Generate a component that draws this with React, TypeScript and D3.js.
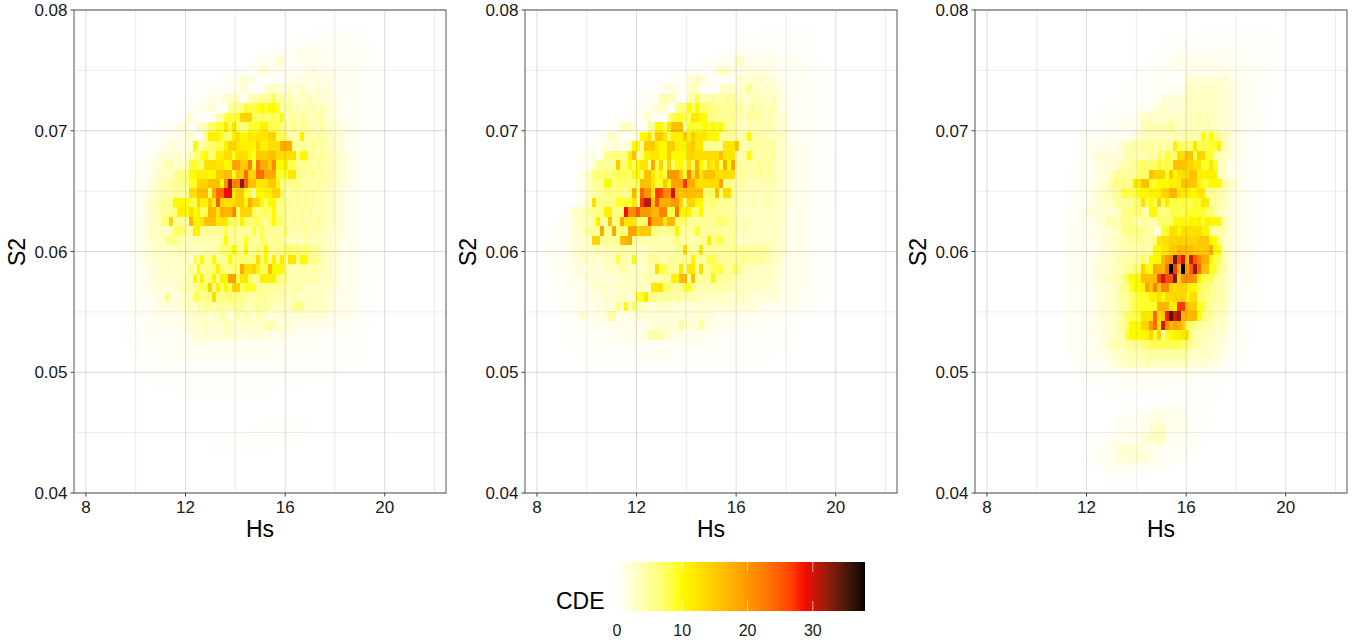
import React from "react";
import * as d3 from "d3";

// Cell codes: , = 0.3  ; = 0.6  0-9  a-z = 10-35  A B C = 36 37 38   (_ = ten empty cells)
// Each string is one S2 row; each character one Hs bin.
const firstRow = 2;
const panel1Start = 0;
const panel1Rows = [
"_ _ _ _ _ 00000000,, ,,,,,,,,,,",
"_ _ _ _ _ 00,,,,,,;; ;;;;;,,,,, ,,",
"_ _ _ _ 0000,,,;;; ;;;;1111;; ;;;;;;;,,, ,,,",
"_ _ _ _ 0,,;;;;123 ,,;;111111 1;;;;;;;;, ,,,",
"_ _ _ 0000000,,, ,,;1221111 ,;;;111211 111;;;;;;; ,,,",
"_ _ _ 000,,;;;12 221;,,,,,; 1112121121 2111;;;;;; ,,,,",
"_ _ 00000000,, ,;;;;;1112 2;,,,23332 2322322132 2211;;;;;; ,,,,",
"_ _ 000000,,,, ;11122333; ;344555845 3432334232 2211;;;;;; ,,,,",
"_ _ 0000,,;;11 122;;,5566 9889a9aa95 4534343434 3221;;;;;; ,,,,",
"_ _ 0000,22;,, ,,;448989e ee8787787a 4454553444 3221;;;;;; ,,,,",
"_ 0000000,,, ,11222,,33 47799c8c86 6999bb8886 5464554435 3322111;;; ,,,,,",
"_ 00000,,,;; 1111122111 5bbb977bda acbcccee88 7444b45454 4332211;;; ,,,,,",
"_ 0000,,,;;1 1221212a54 67788beecb bbaebbdddi ii64554645 4332211;;; ,,,,,",
"_ 000,,;;122 2223225669 a77bbdd9dd da9fffggdd ddd6aa4545 4433221;;; ,,,,,",
"_ 00,,;;1223 4423339977 dddccaajjf fm9niiflaa b886565454 4433221;;; ,,,,,",
"_ 00,;;11233 335666aabb baaffgg9ff oeeooiii99 9cc6554645 4433221;;; ,,,,,",
"_ 0,,;;12234 45656699ee egggalwmmx pggcccffa6 6656545454 4433221;;; ,,,,,",
"_ ,,;;112334 445544ddgg g8ioottbff 994aabbee8 4455454544 4332211;;; ,,,,,",
"_ ,,;;123345 55aaaa88eb bgapedddff aieea7aa66 6545454544 4332211;;; ,,,,,",
"_ ,,;;123345 556bbadab7 8hhcihhl8e ee86787a66 5554545444 4332211;;; ,,,,,",
"_ ,;;1123346 6e5554hbbc gggccc877b 7778747a77 5454544454 4332211;;; ,,,,,",
"_ ,;;1123333 3477744bb5 5555585655 5585855555 7444454444 3322211;;; ,,,,,",
"_ ,;;1122333 6664434444 44445a5555 9655774555 4434344343 3322111;;; ,,,,",
"_ ,;;1122333 3334343333 4444777a75 a5576a6565 7767676554 3322111;;; ,,,,",
"_ ,;;1122233 333333284a 55a555a677 767d7a6b6c 6cc6aa5654 3322111;;; ,,,,",
"_ ,,;;112223 33233364a5 667b76677i ddeb78gaaa 6444444444 3322111;;; ,,,,",
"_ ,,;;112222 2233343a5b 66b5bajj8c c755bbbb76 5444444443 3322111;;; ,,,,",
"_ ,,;;111222 2223444577 8e6b7a7ee7 9995555555 4444433333 3322111;;; ,,,",
"_ ,,,;;11122 6222333885 66d6667666 5445554444 4343333333 3221111;;; ,,,",
"_ ,,,;;;1112 2222333354 5545545555 4445454343 3356634333 3221111;;; ,,,",
"_ ,,,;;;;111 1111122333 3232432243 4324332222 2222222222 2111111;;; ,,",
"_ ,,,,;;;;11 1111122332 4232244223 3332344422 2211111111 111;;;;,,, ,,",
"_ ,,,,,;;;;; ;;;1111222 3222233222 1222212112 111;;;;;;; ;;;;,,,,,,",
"_ 0,,,,,;;;; ;;;;;;1111 1111;1111; ;;;1;;;;;; ;;;;;;;;;, ,,,,,,,,,,",
"_ 00,,,,,,,; ;;;;;;;;;; ;;;;;;;;;; ;;;;;;;;;; ,,,,,,,,,, ,,,,,,,,,,",
"_ 000,,,,,,, ,,,,,,,,,, ,,,,,,,,,, ,,,,,,,,,, ,,,,,,,,,, ,,,,,,,,00",
"_ 00000,,,,, ,,,,,,,,,, ,,,,,,,,,, ,,,,,,,,,, ,,,,,,,,,, ,,,,000000",
"_ 0000000,,, ,,,,,,,,,, ,,,,,,,,,, ,,,,,,,,,, ,,,,,,0000",
"_ _ 000,,,,,,, ,,,,,,,,,, ,,,,,,0000",
"",
"",
"_ _ _ _ 00000,,,,, ,,,,,,0000",
"_ _ _ _ 0,,,,,,,,, ,,,,,,0000",
"_ _ _ 00000,,,,, ,,,,,,,,,, ,,,,,",
"_ _ _ 00,,,,,,,, ,,,,,,,000",
];

const panel2Start = 0;
const panel2Rows = [
"_ _ _ _ _ 000000,,,, ,,,,,,,,,,",
"_ _ _ _ _ 0,,,,,,,,, ,,,,,,,,,,",
"_ _ _ _ 000000,,,, ;;;;;;;;;; ,,,,,,,,,,",
"_ _ _ _ 00,,;;;111 3311111111 ;;;;;;;,,, ,,",
"_ _ _ 0000000,,, ,,;;123321 1212121211 1;;;;;;,,, ,,",
"_ _ _ 00,,;;;122 422;,,,;;; 2322323222 11;;;;;;,, ,,,",
"_ _ 000000,,,; ;11221;;33 3,,;,,3333 2336332332 2111;;;;;, ,,,",
"_ _ 0000,,,;;1 1443311;44 8444544555 3423343324 2211;;;;;; ,,,",
"_ _ 000,,,;;12 233;;666a7 a776665555 4534535344 2211;;;;;; ,,,",
"_ _ 00,,;1122; ,,;689987c caa5655656 4435454343 3221;;;;;; ,,,,",
"_ 000000000, ;3332,,;55 aa7cggg599 99a9a9a655 3434344343 3221;;;;;; ,,,,",
"_ 0000,,;;33 2;;;;2aad7 ffc8bbbfbf cccaaa5555 445a454434 3321;;;;;; ,,,,",
"_ 00,,;;1212 2122aa5fff caaffbbbef cc55555ccc f444545455 3322111;;; ,,,,",
"_ ,;;1211666 666bg66bbc caafaaaaee ddddddgccc 445a544545 3322111;;; ,,,,,",
"_ ,;;1255555 f77a7acc6i 8e7e7aa8d8 ia8dbe8iaj 5545455454 3322111;;; ,,,,,",
"_ ;124676767 8886aa8ggc 9a8kkkf9mc jcgggddddd 4554545454 3322111;;; ,,,,,",
"_ ;123555aa6 777768gggc 99fajjjrii ddddddj665 4543434445 3322111;;; ,,,,,",
"_ ;123455666 6657h8okkc rqllugggggg".replace("gggggg","ggggg")+" gg777g7dd5 4343434343 3322111;;; ,,,,,",
"_ ;123d66666 9999c7rvvg qhiikke7ee aa66765655 4343433434 3322111;;; ,,,,,",
"0000000,;3 3345666bb6 66tllpkkkh hmm88nbbb7 7a56555555 3333333333 3321111;;; ,,,,",
"0000,,;;;2 33335b55g6 6iccc777qi iichh77755 5555577755 4343333333 3221111;;; ,,,,",
"000,,;;;;2 234555i55i 676jjefff6 6556 6b5555 9555555455 4343333333 3221111;;; ,,,,",
"00,,;;;;12 2233ee5555 5ghi544444 4344574544 455b588555 3333333333 3221111;;; ,,,,",
"00,,;;;112 2323343443 4544433344 4444455d55 5c55555555 5555545543 3221111;;; ,,,,",
"00,,;;;112 2232323334 8443a33355 5445555 55b 5558865555 5555555443 3211111;;; ,,,",
"000,,;;;11 2213222333 3443333344 d88555c5cc 5d55888557 7443333333 2211111;;; ,,,",
"000,,;;;11 1122222222 2333333444 4455bbhh5g 5555a55554 4333333333 2211111;;; ,,,",
"0000,,;;;1 1112232322 333333333c cc77555995 4444444444 3333333222 2111111;;; ,,,",
"0000,,;;;; 1111212322 3323399c66 5555454444 4333333332 3332222222 211111;;;, ,,",
"00000,,;;; 1111121222 63a3833322 3323232222 2322222222 2222211111 1;;;;;,,,, ,,",
"00000,,,;; ;311111244 1111222222 2222222222 2222211111 1;;;;;;;;; ;;,,,,,000",
"000000,,,, ;;;;;1;1;1 1111111112 2222225222 2522111111 ;;;;;;;;,, ,,,,,,0000",
"0000000,,, ,,;;;;;;;; 1111111244 4422121111 111;;;;;;; ,,,,,,,,,, ,,,,000000",
"00000000,, ,,,,,;;;;; ;;;;;;;;;; ;;;;;;;;;; ;;;;;;,,,, ,,,,,,,,,, ,,,,000000",
"_ ,,,,,,,,,, ,,,,,;;;;; ;;;;;,,,,, ,,,,,,,,,, ,,,,,,,,,,",
"_ 00,,,,,,,, ,,,,,,,,,, ,,,,,,,,,, ,,,,,,,,,, ,,,,,,,,00",
];

const panel3Start = 20;
const panel3Rows = [
"_ _ _ 00000,,,,, ,,,,,,,,,, ,,",
"_ _ 0000,,,,,, ,,,,,,,,,, ,,,,,,,,,, ,,",
"_ _ 00,,,,,,;; ;;;;;;;;;; ;;;;;,,,,, ,,",
"_ _ ,,,,,;;111 1111111111 ;;;;;;;,,, ,,",
"_ 000000000, ,,,;;;1;;1 1111111111 1;;;;;,,,, ,",
"_ 0000000,,, ,,,,,,,,,1 2222222222 2111;;;;,, ,",
"_ 00000,,,,, ,,,,,;;;;1 3332333332 2211;;;;,, ,",
"_ 0000,,,,,, ,,,,222222 4333333322 2211;;;;,, ,",
"000000000, ,,,,,,,,;1 1122332222 3333333322 2211;;;;,,",
"00000000,, ;;;;;;;;23 3323233333 3434343322 2211;;;;,,",
"00000,,,;; ;;;;111114 4444446333 3434343332 2211;;;,,,",
"000,,;;;;; ;;;;;;1233 3434343434 4444a7a754 3211;;,,,0",
"00,,;;1111 1112344545 4545454b77 77c88899b4 3211;;,,,0",
"00,,;;1222 2222344444 4548597 7dd gg8ee99443 3211;;,,,0",
"00,,;;;122 2223445577 7779797ggg eecc99c933 2111;;,,,0",
"0,,;;;1122 2355555577 7geee9fadd dggbbbbb33 2111;;,,,0",
"0,,;;;1122 3466666ccg g99aaabbbg gffb99aaa5 4321;;,,,0",
",,;;;11223 3455888 8aa abbbeehhcc caacc55544 3211;;,,00",
",,;;;11223 3345555 77d 8a7e8c8989 8899cc5544 3211;;,,00",
",;;;122222 2233666774 4aa6668888 9999977533 2211;;,,00",
",;;;111222 4444666445 4447777aaa 9bab9baaa4 3211;;,,00",
",;;;111122 2333566665 5422 99ddad ddddbb5544 3211;;,,00",
",;;;111112 2333445555 456cddeeee eeefffaa63 3211;;,,00",
",;;;;11112 2233444444 44aaccffhg ggffffiaa3 3211;;,,00",
",;;;111122 2334445558 5aaahklyqt fupmiia884 3211;;,,00",
",;;;111222 233445577e aaihhnCrhC jpwogg9955 3211;;,,00",
",;;;111222 334468aaag gggquqqxel llkb888544 321;;;,,00",
",;;;;11122 2334669aaa jfmflledee caa8775544 321;;;,,00",
",;;;;11122 2334557899 9bbdaddeee add7765544 321;;,,,00",
",;;;;11122 2334557899 999hhhbbrr gff9955444 21;;;,,,00",
",;;;;11122 233457889c ccodfszuwh hhha665433 21;;;,,,00",
",;;;;11122 233457aaae ekoculhjif 7765444333 21;;,,,000",
",;;;;11112 233449aaaa be9e59abbc c544433322 1;;,,,0000",
",;;;;11112 2444455666 7888888887 7544333222 1;;,,,0000",
",,;;;;1111 2233344444 4545454545 4333333221 ;;,,,00000",
"00,,;;;;;1 1122333333 4333333333 3222221111 ;,,,000000",
"000,,,,;;; ;;11111111 1111111111 11;;;;;;,, ,,00000000",
"00000,,,,, ,,,;;;;;;; ;;;;;;;;;; ;;,,,,,,,,",
"_ 0,,,,,,,,, ,,,,,,,,,, ,,,,,,,,00",
"_ _ 0000,,,,,, ,,,,,,,,00",
"_ 0000,,,,,, ;1111111;; ,,,,,",
"_ 00,,;;;;11 1122111111 ;;,,,,",
"_ ,,;;;;1111 1333311111 ;;,,,",
"00000000,, ;;11111112 2333311;;; ;;,,,",
"000000,,;; 1112222222 11111;;;;, ,,,",
"00000,,;;; 1112222222 2111;;,,,,",
"000000,,,, ;;;;;;;;;; ,,,,,,,000",
"_ ,,,,,,,,,,",
];

const panelData = [
  { rows: panel1Rows, start: panel1Start, left: 74 },
  { rows: panel2Rows, start: panel2Start, left: 525 },
  { rows: panel3Rows, start: panel3Start, left: 975 },
];

const xMajor = [8, 12, 16, 20];
const xMinor = [10, 14, 18, 22];
const yMajor = [0.04, 0.05, 0.06, 0.07, 0.08];
const yMinor = [0.045, 0.055, 0.065, 0.075];
const legendTicks = [0, 10, 20, 30];

const HS_BIN = 0.16;
const HS_ORIGIN = 7.96;
const S2_BIN = 0.000783;
const S2_TOP = 0.0801;
const FONT = "'Liberation Sans', Arial, Helvetica, sans-serif";

const color = d3
  .scaleLinear<string>()
  .domain([0, 9.5, 28.5, 38])
  .range(["#ffffff", "#ffff00", "#ff0000", "#000000"])
  .interpolate(d3.interpolateLab);

const decode = (c: string): number => {
  if (c === ",") return 0.3;
  if (c === ";") return 0.6;
  if (c >= "0" && c <= "9") return +c;
  if (c >= "a" && c <= "z") return c.charCodeAt(0) - 87;
  if (c >= "A" && c <= "C") return c.charCodeAt(0) - 29;
  return 0;
};
const expand = (s: string) => s.replace(/ /g, "").replace(/_/g, "0000000000");

const PANEL_W = 372;
const TOP = 10;
const BOTTOM = 493;

function Panel({ rows, start, left, idx }: any) {
  const x = d3.scaleLinear().domain([7.52, 22.46]).range([left, left + PANEL_W]);
  const y = d3.scaleLinear().domain([0.04, 0.08]).range([BOTTOM, TOP]);
  const clip = `clip${idx}`;
  const cells: any[] = [];
  rows.forEach((raw: string, r: number) => {
    const s = expand(raw);
    const j = r + firstRow;
    for (let i = 0; i < s.length; i++) {
      const v = decode(s[i]);
      if (v <= 0) continue;
      const k = i + start;
      const hs = HS_ORIGIN + k * HS_BIN;
      const s2 = S2_TOP - j * S2_BIN;
      cells.push(
        <rect
          key={`${j}-${k}`}
          x={x(hs)}
          y={y(s2)}
          width={x(hs + HS_BIN) - x(hs)}
          height={y(s2 - S2_BIN) - y(s2)}
          fill={color(v)}
          shapeRendering="crispEdges"
        />
      );
    }
  });
  const tick = "#444";
  return (
    <g fontFamily={FONT}>
      <defs>
        <clipPath id={clip}>
          <rect x={left} y={TOP} width={PANEL_W} height={BOTTOM - TOP} />
        </clipPath>
      </defs>
      <g clipPath={`url(#${clip})`}>{cells}</g>
      {xMinor.map((d) => (
        <line key={d} x1={x(d)} x2={x(d)} y1={TOP} y2={BOTTOM} stroke="#000" strokeOpacity={0.08} />
      ))}
      {yMinor.map((d) => (
        <line key={d} x1={left} x2={left + PANEL_W} y1={y(d)} y2={y(d)} stroke="#000" strokeOpacity={0.08} />
      ))}
      {xMajor.map((d) => (
        <line key={d} x1={x(d)} x2={x(d)} y1={TOP} y2={BOTTOM} stroke="#000" strokeOpacity={0.14} />
      ))}
      {yMajor.map((d) => (
        <line key={d} x1={left} x2={left + PANEL_W} y1={y(d)} y2={y(d)} stroke="#000" strokeOpacity={0.14} />
      ))}
      <rect x={left} y={TOP} width={PANEL_W} height={BOTTOM - TOP} fill="none" stroke="#555" strokeWidth={1} />
      {xMajor.map((d) => (
        <g key={d}>
          <line x1={x(d)} x2={x(d)} y1={BOTTOM} y2={BOTTOM + 3.5} stroke={tick} />
          <text x={x(d)} y={513} textAnchor="middle" fontSize={17} fill="#1a1a1a">
            {d}
          </text>
        </g>
      ))}
      {yMajor.map((d) => (
        <g key={d}>
          <line x1={left - 3.5} x2={left} y1={y(d)} y2={y(d)} stroke={tick} />
          <text x={left - 6.5} y={y(d) + 6} textAnchor="end" fontSize={17} fill="#1a1a1a">
            {d3.format(".2f")(d)}
          </text>
        </g>
      ))}
      <text x={left + 186} y={537} textAnchor="middle" fontSize={23} fill="#000">
        Hs
      </text>
      <text
        transform={`translate(${left - 49},252) rotate(-90)`}
        textAnchor="middle"
        fontSize={23}
        fill="#000"
      >
        S2
      </text>
    </g>
  );
}

function Legend() {
  const x = d3.scaleLinear().domain([0, 38]).range([617, 865]);
  const stops = d3.range(0, 39);
  const top = 562;
  const bottom = 611;
  return (
    <g fontFamily={FONT}>
      <defs>
        <linearGradient id="cde" x1="0" x2="1" y1="0" y2="0">
          {stops.map((v) => (
            <stop key={v} offset={v / 38} stopColor={color(v)} />
          ))}
        </linearGradient>
      </defs>
      <rect x={x(0)} y={top} width={x(38) - x(0)} height={bottom - top} fill="url(#cde)" />
      {legendTicks.map((d) => (
        <g key={d}>
          <line x1={x(d)} x2={x(d)} y1={top} y2={top + 10} stroke="#fff" strokeOpacity={0.6} />
          <line x1={x(d)} x2={x(d)} y1={bottom - 10} y2={bottom} stroke="#fff" strokeOpacity={0.6} />
          <text x={x(d)} y={636} textAnchor="middle" fontSize={16} fill="#1a1a1a">
            {d}
          </text>
        </g>
      ))}
      <text x={556} y={609} fontSize={23} fill="#000">
        CDE
      </text>
    </g>
  );
}

export default function App() {
  return (
    <svg
      width={1367}
      height={644}
      style={{ position: "absolute", left: 0, top: 0, background: "#fff" }}
    >
      {panelData.map((p, i) => (
        <Panel key={i} idx={i} rows={p.rows} start={p.start} left={p.left} />
      ))}
      <Legend />
    </svg>
  );
}
